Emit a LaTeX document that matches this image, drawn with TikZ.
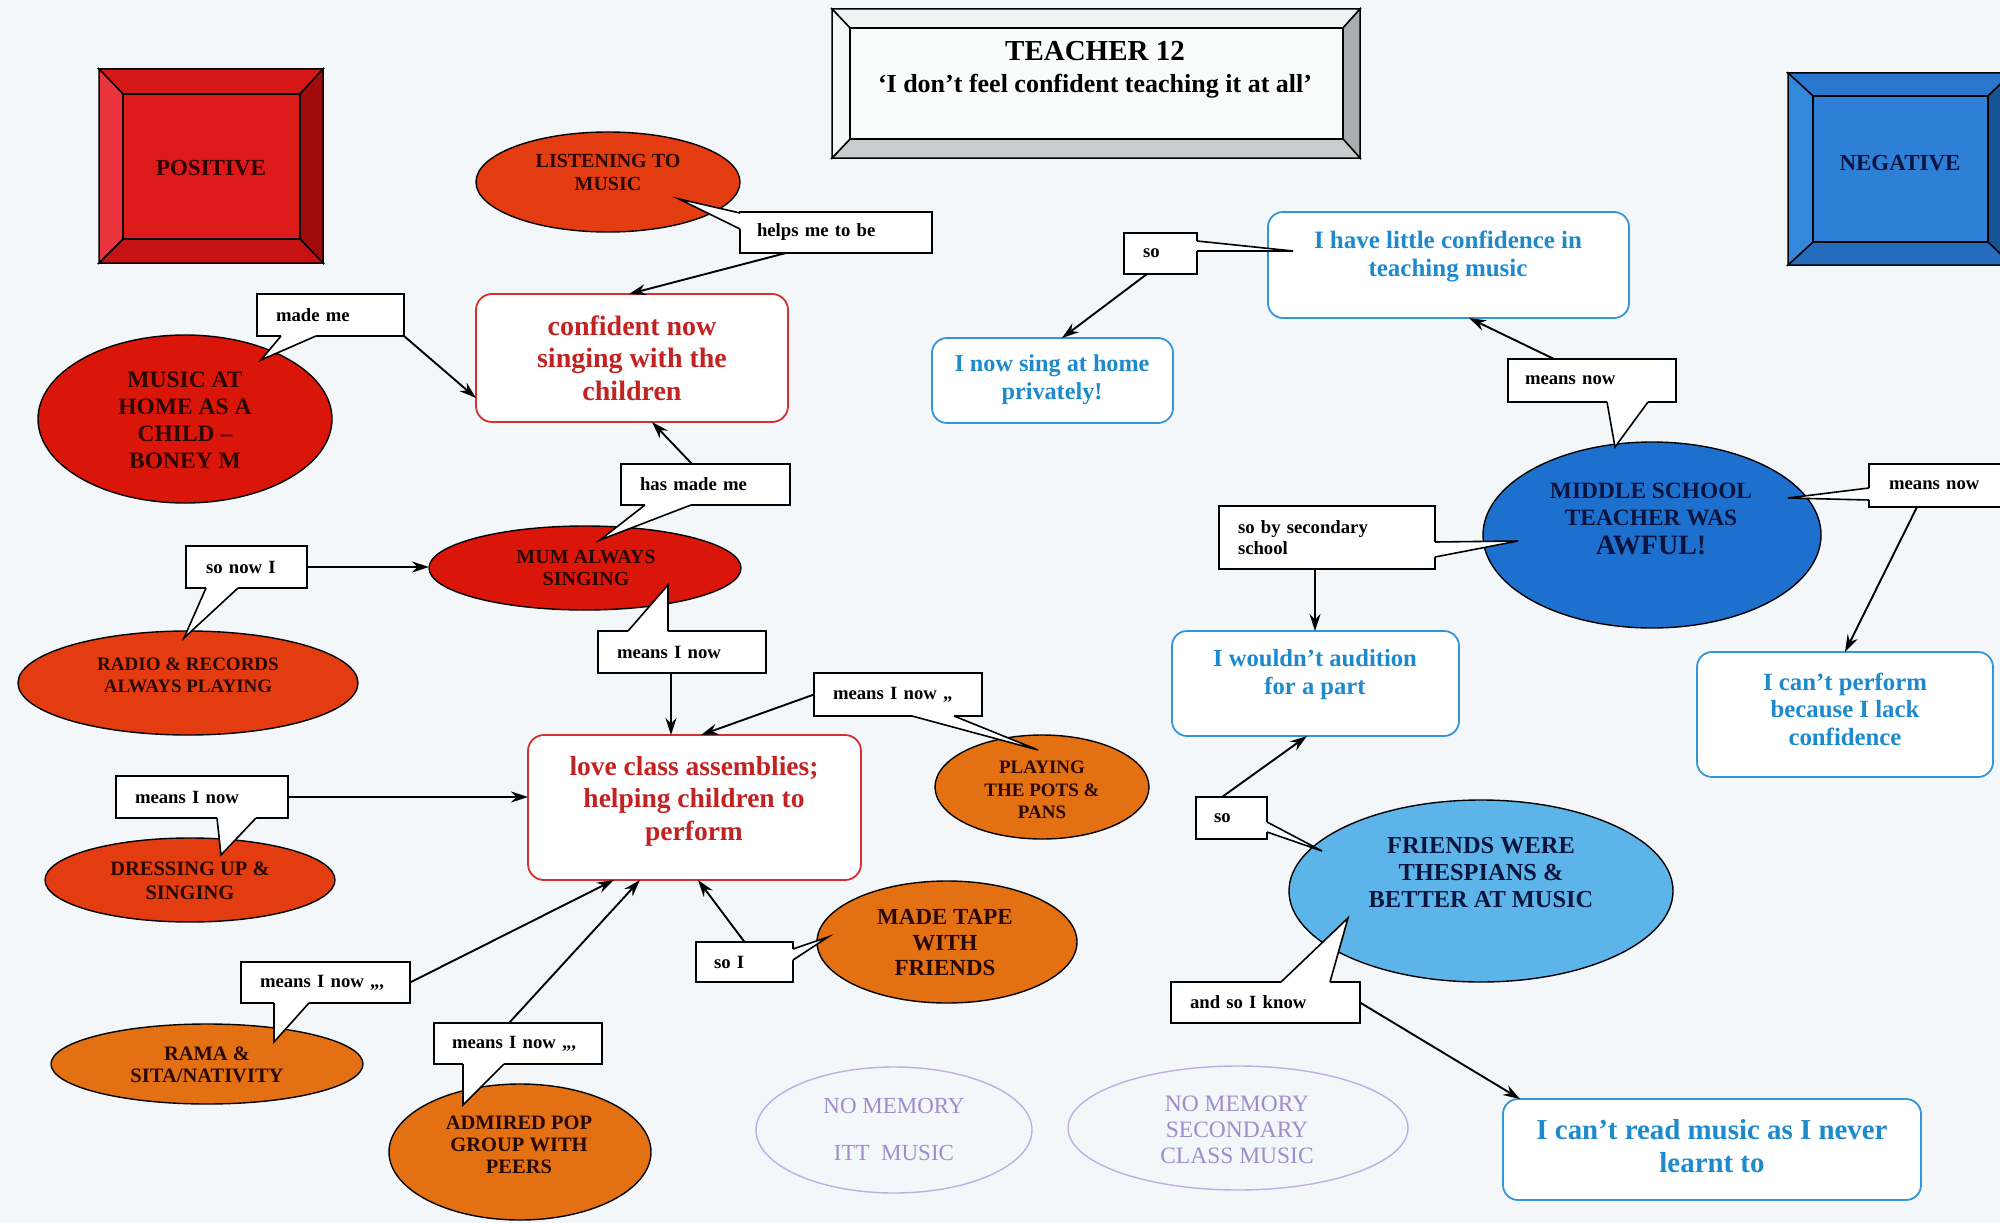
\documentclass[tikz,border=0pt]{standalone}
\usepackage{fontspec}
\setmainfont{Liberation Serif}
\usetikzlibrary{arrows.meta,shapes.geometric}

% palette
\definecolor{paper}{RGB}{244,247,250}
\definecolor{redE}{RGB}{218,22,10}
\definecolor{orangeredE}{RGB}{226,60,16}
\definecolor{orangeE}{RGB}{228,112,20}
\definecolor{blueE}{RGB}{30,112,206}
\definecolor{skyE}{RGB}{92,180,232}
\definecolor{inkR}{RGB}{40,8,0}
\definecolor{inkB}{RGB}{10,20,62}
\definecolor{redLine}{RGB}{212,48,48}
\definecolor{redText}{RGB}{194,34,34}
\definecolor{blueLine}{RGB}{52,150,218}
\definecolor{blueText}{RGB}{30,138,206}
\definecolor{lavLine}{RGB}{192,174,226}
\definecolor{lavText}{RGB}{160,140,205}
% bevel frames
\definecolor{posT}{RGB}{214,24,24}
\definecolor{posR}{RGB}{160,12,12}
\definecolor{posB}{RGB}{198,18,18}
\definecolor{posL}{RGB}{232,52,58}
\definecolor{posF}{RGB}{220,26,26}
\definecolor{posInk}{RGB}{50,0,0}
\definecolor{negT}{RGB}{40,118,205}
\definecolor{negR}{RGB}{22,84,150}
\definecolor{negB}{RGB}{36,108,190}
\definecolor{negL}{RGB}{52,136,220}
\definecolor{negF}{RGB}{46,128,214}
\definecolor{ttlT}{RGB}{240,243,243}
\definecolor{ttlR}{RGB}{168,174,174}
\definecolor{ttlB}{RGB}{200,205,205}
\definecolor{ttlL}{RGB}{246,248,248}
\definecolor{ttlF}{RGB}{250,251,251}

\newcommand\fsz[2]{\fontsize{#1}{#2}\selectfont}

% callout tails: node, first offset, second offset, tip
\newcommand\tailB[4]{%
  \fill[white] ([xshift=#2pt,yshift=2.5pt]#1.south west) -- ([xshift=#2pt]#1.south west) -- #4
    -- ([xshift=#3pt]#1.south west) -- ([xshift=#3pt,yshift=2.5pt]#1.south west) -- cycle;
  \draw[tailline] ([xshift=#2pt]#1.south west) -- #4 -- ([xshift=#3pt]#1.south west);}
\newcommand\tailT[4]{%
  \fill[white] ([xshift=#2pt,yshift=-2.5pt]#1.north west) -- ([xshift=#2pt]#1.north west) -- #4
    -- ([xshift=#3pt]#1.north west) -- ([xshift=#3pt,yshift=-2.5pt]#1.north west) -- cycle;
  \draw[tailline] ([xshift=#2pt]#1.north west) -- #4 -- ([xshift=#3pt]#1.north west);}
\newcommand\tailL[4]{%
  \fill[white] ([yshift=-#2pt,xshift=2.5pt]#1.north west) -- ([yshift=-#2pt]#1.north west) -- #4
    -- ([yshift=-#3pt]#1.north west) -- ([yshift=-#3pt,xshift=2.5pt]#1.north west) -- cycle;
  \draw[tailline] ([yshift=-#2pt]#1.north west) -- #4 -- ([yshift=-#3pt]#1.north west);}
\newcommand\tailR[4]{%
  \fill[white] ([yshift=-#2pt,xshift=-2.5pt]#1.north east) -- ([yshift=-#2pt]#1.north east) -- #4
    -- ([yshift=-#3pt]#1.north east) -- ([yshift=-#3pt,xshift=-2.5pt]#1.north east) -- cycle;
  \draw[tailline] ([yshift=-#2pt]#1.north east) -- #4 -- ([yshift=-#3pt]#1.north east);}

\tikzset{
  frameline/.style={draw=black, line width=1.5pt, line join=miter},
  face/.style={rectangle, draw=black, line width=1.5pt, inner sep=0pt, outer sep=0pt},
  ell/.style={ellipse, draw=black, line width=1.4pt, inner sep=0pt, outer sep=0pt},
  noell/.style={ellipse, draw=lavLine, line width=1.4pt, inner sep=0pt, outer sep=0pt},
  etxt/.style={align=center, text=inkR, inner sep=0pt},
  btxt/.style={align=center, text=inkB, inner sep=0pt},
  ltxt/.style={align=center, text=lavText, inner sep=0pt},
  redbox/.style={rectangle, rounded corners=16pt, draw=redLine, fill=white, line width=1.8pt, inner sep=0pt, outer sep=0pt},
  bluebox/.style={rectangle, rounded corners=15pt, draw=blueLine, fill=white, line width=1.8pt, inner sep=0pt, outer sep=0pt},
  rtxt/.style={align=center, text=redText, inner sep=0pt, font=\fsz{28}{32.5}\bfseries},
  bltxt/.style={align=center, text=blueText, inner sep=0pt},
  co/.style={rectangle, draw=black, fill=white, line width=1.6pt, inner ysep=0pt, outer sep=0pt,
    align=left, font=\fsz{18.7}{21}\bfseries},
  tailline/.style={draw=black, line width=1.6pt, line join=miter},
  arr/.style={draw=black, line width=1.9pt, -{Stealth[length=17pt,width=11pt]}}
}

\begin{document}
\begin{tikzpicture}[x=1pt,y=-1pt]
\useasboundingbox (0,0) rectangle (2000,1223);
\clip (0,0) rectangle (2000,1223);
\fill[paper] (0,0) rectangle (2000,1223);

% ---- title frame
\filldraw[frameline, fill=ttlT] (832,9) -- (1360,9) -- (1343,28) -- (850,28) -- cycle;
\filldraw[frameline, fill=ttlR] (1360,9) -- (1360,158) -- (1343,139) -- (1343,28) -- cycle;
\filldraw[frameline, fill=ttlB] (1360,158) -- (832,158) -- (850,139) -- (1343,139) -- cycle;
\filldraw[frameline, fill=ttlL] (832,158) -- (832,9) -- (850,28) -- (850,139) -- cycle;
\node[face, fill=ttlF, minimum width=493, minimum height=111] (titleface) at (1096.5,83.5) {};
\node[inner sep=0pt, font=\fsz{29}{33}\bfseries] (title) at (1095,51) {TEACHER 12};
\node[inner sep=0pt, font=\fsz{26}{30}\bfseries] (quote) at (1095,86) {‘I don’t feel confident teaching it at all’};

% ---- POSITIVE frame
\filldraw[frameline, fill=posT] (99,69) -- (323,69) -- (300,94) -- (123,94) -- cycle;
\filldraw[frameline, fill=posR] (323,69) -- (323,263) -- (300,239) -- (300,94) -- cycle;
\filldraw[frameline, fill=posB] (323,263) -- (99,263) -- (123,239) -- (300,239) -- cycle;
\filldraw[frameline, fill=posL] (99,263) -- (99,69) -- (123,94) -- (123,239) -- cycle;
\node[face, fill=posF, minimum width=177, minimum height=145] (positive) at (211.5,166.5) {};
\node[inner sep=0pt, text=posInk, font=\fsz{23}{26}\bfseries] (positive-t) at (211,168) {POSITIVE};

% ---- NEGATIVE frame
\filldraw[frameline, fill=negT] (1788,73) -- (2012,73) -- (1988,96) -- (1813,96) -- cycle;
\filldraw[frameline, fill=negR] (2012,73) -- (2012,265) -- (1988,242) -- (1988,96) -- cycle;
\filldraw[frameline, fill=negB] (2012,265) -- (1788,265) -- (1813,242) -- (1988,242) -- cycle;
\filldraw[frameline, fill=negL] (1788,265) -- (1788,73) -- (1813,96) -- (1813,242) -- cycle;
\node[face, fill=negF, minimum width=175, minimum height=146] (negative) at (1900.5,169) {};
\node[inner sep=0pt, text=inkB, font=\fsz{23}{26}\bfseries] (negative-t) at (1900,163) {NEGATIVE};

% ---- positive memories
\node[ell, fill=orangeredE, minimum width=264, minimum height=100] (listen) at (608,182) {};
\node[etxt, font=\fsz{20}{23}\bfseries] (listen-t) at (608,172) {LISTENING TO\\MUSIC};
\node[ell, fill=redE, minimum width=294, minimum height=168] (home) at (185,419) {};
\node[etxt, font=\fsz{23.5}{27}\bfseries] (home-t) at (185,420) {MUSIC AT\\HOME AS A\\CHILD –\\BONEY M};
\node[ell, fill=redE, minimum width=312, minimum height=84] (mum) at (585,568) {};
\node[etxt, font=\fsz{20}{22}\bfseries] (mum-t) at (586,568) {MUM ALWAYS\\SINGING};
\node[ell, fill=orangeredE, minimum width=340, minimum height=104] (radio) at (188,683) {};
\node[etxt, font=\fsz{19}{22}\bfseries] (radio-t) at (188,675) {RADIO \& RECORDS\\ALWAYS PLAYING};
\node[ell, fill=orangeE, minimum width=214, minimum height=104] (pots) at (1042,787) {};
\node[etxt, font=\fsz{19}{22.5}\bfseries] (pots-t) at (1042,790) {PLAYING\\THE POTS \&\\PANS};
\node[ell, fill=orangeredE, minimum width=290, minimum height=84] (dressing) at (190,880) {};
\node[etxt, font=\fsz{20.5}{24}\bfseries] (dressing-t) at (190,881) {DRESSING UP \&\\SINGING};
\node[ell, fill=orangeE, minimum width=312, minimum height=80] (rama) at (207,1064) {};
\node[etxt, font=\fsz{20.5}{22}\bfseries] (rama-t) at (207,1065) {RAMA \&\\SITA/NATIVITY};
\node[ell, fill=orangeE, minimum width=262, minimum height=136] (popgroup) at (520,1152) {};
\node[etxt, font=\fsz{20.5}{22}\bfseries] (popgroup-t) at (519,1145) {ADMIRED POP\\GROUP WITH\\PEERS};
\node[ell, fill=orangeE, minimum width=260, minimum height=122] (tape) at (947,942) {};
\node[etxt, font=\fsz{23}{25.5}\bfseries] (tape-t) at (945,943) {MADE TAPE\\WITH\\FRIENDS};

% ---- no memory
\node[noell, minimum width=276, minimum height=126] (itt) at (894,1130) {};
\node[ltxt, font=\fsz{23}{47}] (itt-t) at (894,1129) {NO MEMORY\\ITT\ \ MUSIC};
\node[noell, minimum width=340, minimum height=124] (secondary) at (1238,1128) {};
\node[ltxt, font=\fsz{23.5}{26}] (secondary-t) at (1237,1130) {NO MEMORY\\SECONDARY\\CLASS MUSIC};

% ---- negative memories
\node[ell, fill=blueE, minimum width=338, minimum height=186] (middle) at (1652,535) {};
\node[btxt, font=\fsz{23.4}{27}\bfseries] (middle-t) at (1651,519) {MIDDLE SCHOOL\\TEACHER WAS\\[2pt]{\fsz{28}{30}\bfseries AWFUL!}};
\node[ell, fill=skyE, minimum width=384, minimum height=182] (friends) at (1481,891) {};
\node[btxt, font=\fsz{24.4}{27}\bfseries] (friends-t) at (1481,873) {FRIENDS WERE\\THESPIANS \&\\BETTER AT MUSIC};

% ---- outcome boxes
\node[redbox, minimum width=312, minimum height=128] (confident) at (632,358) {};
\node[rtxt] (confident-t) at (632,358) {confident now\\singing with the\\children};
\node[redbox, minimum width=333, minimum height=145] (love) at (694.5,807.5) {};
\node[rtxt, font=\fsz{27.5}{32.5}\bfseries] (love-t) at (694,801) {love class assemblies;\\helping children to\\perform};
\node[bluebox, minimum width=361, minimum height=106] (little) at (1448.5,265) {};
\node[bltxt, font=\fsz{25}{28}\bfseries] (little-t) at (1448,256) {I have little confidence in\\teaching music};
\node[bluebox, minimum width=241, minimum height=85] (privately) at (1052.5,380.5) {};
\node[bltxt, font=\fsz{24.2}{28}\bfseries] (privately-t) at (1052,380) {I now sing at home\\privately!};
\node[bluebox, minimum width=287, minimum height=105] (audition) at (1315.5,683.5) {};
\node[bltxt, font=\fsz{24.6}{28}\bfseries] (audition-t) at (1315,675) {I wouldn’t audition\\for a part};
\node[bluebox, minimum width=296, minimum height=125] (perform) at (1845,714.5) {};
\node[bltxt, font=\fsz{24.8}{27.5}\bfseries] (perform-t) at (1845,709) {I can’t perform\\because I lack\\confidence};
\node[bluebox, minimum width=418, minimum height=101] (readmusic) at (1712,1149.5) {};
\node[bltxt, font=\fsz{28.9}{33}\bfseries] (readmusic-t) at (1712,1146) {I can’t read music as I never\\learnt to};

% ---- callout labels
\node[co, minimum height=41, inner xsep=17pt, text width=158pt] (hm) at (836,232.5) {helps me to be};
\tailL{hm}{1}{17}{(679,199)}
\node[co, minimum height=42, inner xsep=19pt, text width=109pt] (mm) at (330.5,315) {made me};
\tailB{mm}{24}{59}{(261,360)}
\node[co, minimum height=41, inner xsep=19pt, text width=131pt] (hmm) at (705.5,484.5) {has made me};
\tailB{hmm}{24}{70}{(600,540)}
\node[co, minimum height=42, inner xsep=20pt, text width=81pt] (snI) at (246.5,567) {so now I};
\tailB{snI}{20}{52}{(184,638)}
\node[co, minimum height=42, inner xsep=19pt, text width=130pt] (mIn1) at (682,652) {means I now};
\tailT{mIn1}{30}{70}{(668,585)}
\node[co, minimum height=43, inner xsep=19pt, text width=130pt] (mIn2) at (898,694.5) {means I now ,,};
\tailB{mIn2}{98}{140}{(1038,750)}
\node[co, minimum height=42, inner xsep=19pt, text width=134pt] (mIn3) at (202,797) {means I now};
\tailB{mIn3}{101}{140}{(221,855)}
\node[co, minimum height=41, inner xsep=19pt, text width=131pt] (mIn4) at (325.5,982.5) {means I now ,,,};
\tailB{mIn4}{33}{68}{(274,1042)}
\node[co, minimum height=41, inner xsep=18pt, text width=132pt] (mIn5) at (518,1043.5) {means I now ,,,};
\tailB{mIn5}{29}{70}{(463,1105)}
\node[co, minimum height=40, inner xsep=18pt, text width=61pt] (soI) at (744.5,962) {so I};
\tailR{soI}{7}{18}{(828,937)}
\node[co, minimum height=41, inner xsep=19pt, text width=35pt] (so1) at (1160.5,253.5) {so};
\tailR{so1}{8}{18}{(1293,251)}
\node[co, minimum height=43, inner xsep=17pt, text width=134pt] (mn1) at (1592,380.5) {means now};
\tailB{mn1}{99}{140}{(1615,447)}
\node[co, minimum height=43, inner xsep=20pt, text width=101pt] (mn2) at (1939.5,485.5) {means now};
\tailL{mn2}{24}{36}{(1788,498)}
\node[co, minimum height=63, inner xsep=19pt, text width=178pt] (sbs) at (1327,537.5) {so by secondary\\school};
\tailR{sbs}{36}{51}{(1518,541)}
\node[co, minimum height=42, inner xsep=18pt, text width=35pt] (so2) at (1231.5,818) {so};
\tailR{so2}{25}{35}{(1322,851)}
\node[co, minimum height=41, inner xsep=19pt, text width=151pt] (asik) at (1265.5,1002.5) {and so I know};
\tailT{asik}{110}{159}{(1348,918)}

% ---- connectors
\draw[arr] ([xshift=-50pt]hm.south) -- ([xshift=-3pt]confident.north);
\draw[arr] (mm.south east) -- ([yshift=-40pt]confident.west);
\draw[arr] ([xshift=-13.5pt]hmm.north) -- ([xshift=20pt]confident.south);
\draw[arr] (snI.east) -- (snI.east -| mum.west);
\draw[arr] ([xshift=-11pt]mIn1.south) -- ([xshift=-11pt]mIn1.south |- love.north);
\draw[arr] (mIn2.west) -- ([xshift=6.5pt]love.north);
\draw[arr] (mIn3.east) -- (mIn3.east -| love.west);
\draw[arr] (mIn4.east) -- ([xshift=-80.5pt]love.south);
\draw[arr] ([xshift=-9pt]mIn5.north) -- ([xshift=-54.5pt]love.south);
\draw[arr] (soI.north) -- ([xshift=3.5pt]love.south);
\draw[arr] ([xshift=-13.5pt]so1.south) -- ([xshift=9.5pt]privately.north);
\draw[arr] ([xshift=-38pt]mn1.north) -- ([xshift=20.5pt]little.south);
\draw[arr] ([xshift=-22.5pt]mn2.south) -- (perform.north);
\draw[arr] ([xshift=-12pt]sbs.south) -- ([xshift=-12pt]sbs.south |- audition.north);
\draw[arr] ([xshift=-9.5pt]so2.north) -- ([xshift=-8.5pt]audition.south);
\draw[arr] (asik.east) -- ([xshift=17pt]readmusic.north west);
\end{tikzpicture}
\end{document}
